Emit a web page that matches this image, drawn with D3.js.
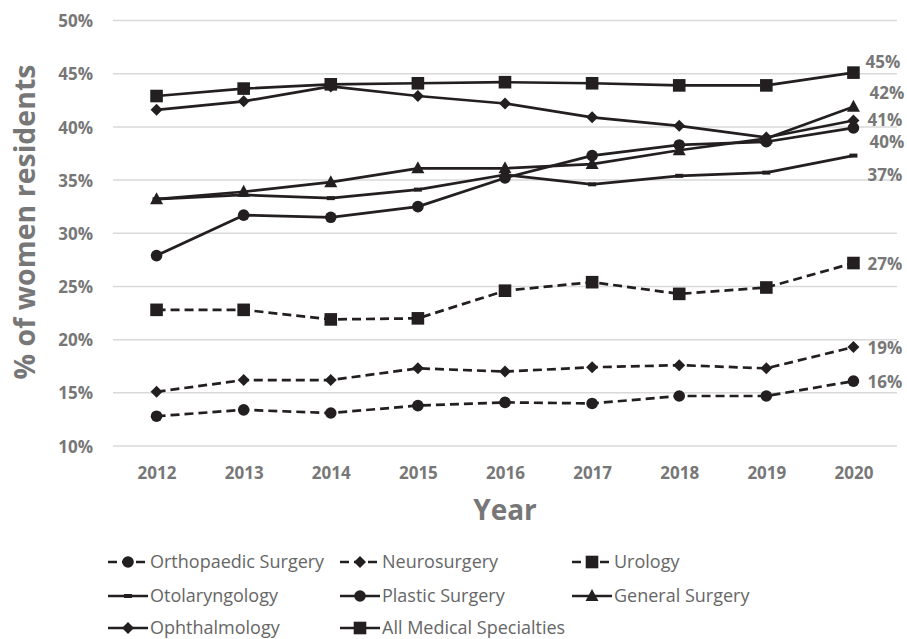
<!DOCTYPE html>
<html>
<head>
<meta charset="utf-8">
<script src="https://cdn.jsdelivr.net/npm/d3@7"></script>
<style>
  html, body { margin: 0; padding: 0; background: #fff; }
  svg { display: block; }
</style>
</head>
<body>
<svg id="chart" width="907" height="639"></svg>
<script>
// Share of women residents by specialty, 2012–2020 (percent)
const years = ["2012", "2013", "2014", "2015", "2016", "2017", "2018", "2019", "2020"];
const yTicks = [10, 15, 20, 25, 30, 35, 40, 45, 50];

const orthopaedicSurgery = [12.8, 13.4, 13.1, 13.8, 14.1, 14.0, 14.7, 14.7, 16.1];
const neurosurgery       = [15.1, 16.2, 16.2, 17.3, 17.0, 17.4, 17.6, 17.3, 19.3];
const urology            = [22.8, 22.8, 21.9, 22.0, 24.6, 25.4, 24.3, 24.9, 27.2];
const otolaryngology     = [33.2, 33.6, 33.3, 34.1, 35.5, 34.6, 35.4, 35.7, 37.3];
const plasticSurgery     = [27.9, 31.7, 31.5, 32.5, 35.2, 37.3, 38.3, 38.6, 39.9];
const generalSurgery     = [33.2, 33.9, 34.8, 36.1, 36.1, 36.5, 37.8, 38.9, 41.9];
const ophthalmology      = [41.6, 42.4, 43.8, 42.9, 42.2, 40.9, 40.1, 39.0, 40.6];
const allSpecialties     = [42.9, 43.6, 44.0, 44.1, 44.2, 44.1, 43.9, 43.9, 45.1];

const seriesNames = ["Orthopaedic Surgery", "Neurosurgery", "Urology", "Otolaryngology",
                     "Plastic Surgery", "General Surgery", "Ophthalmology", "All Medical Specialties"];
const seriesValues = [orthopaedicSurgery, neurosurgery, urology, otolaryngology,
                      plasticSurgery, generalSurgery, ophthalmology, allSpecialties];

// Drawing style per series
const styles = [
  { dashed: true,  marker: "circle" },
  { dashed: true,  marker: "diamond" },
  { dashed: true,  marker: "square" },
  { dashed: false, marker: "dash" },
  { dashed: false, marker: "circle" },
  { dashed: false, marker: "triangle" },
  { dashed: false, marker: "diamond" },
  { dashed: false, marker: "square" }
];
// Nudges for the end-of-line value labels so they do not collide
const labelNudge = [
  { dx: 14, dy: 1 }, { dx: 14, dy: 1 }, { dx: 14, dy: 1 }, { dx: 14, dy: 19 },
  { dx: 16, dy: 14 }, { dx: 16, dy: -14 }, { dx: 14, dy: -1 }, { dx: 12, dy: -11 }
];

const INK = "#231f20";
const GREY = "#777777";
const FONT = "'Open Sans', 'DejaVu Sans', sans-serif";

const svg = d3.select("#chart");
const plot = { left: 113, right: 897, top: 20.5, bottom: 446 };

const x = d3.scalePoint().domain(years).range([plot.left, plot.right]).padding(0.5);
const y = d3.scaleLinear().domain([10, 50]).range([plot.bottom, plot.top]);

// Gridlines
svg.append("g").selectAll("line").data(yTicks).join("line")
  .attr("x1", plot.left).attr("x2", plot.right)
  .attr("y1", d => y(d)).attr("y2", d => y(d))
  .attr("stroke", "#d9d9d9").attr("stroke-width", 1.5);

// Y axis labels
const yAxis = d3.axisLeft(y).tickValues(yTicks).tickFormat(d => d + "%").tickSize(0).tickPadding(0);
const yg = svg.append("g").attr("transform", `translate(93,0)`).call(yAxis);
yg.select(".domain").remove();
yg.selectAll("text").attr("font-family", FONT).attr("font-weight", 700)
  .attr("font-size", 17).attr("fill", GREY).attr("dy", "0.36em");

// X axis labels
const xAxis = d3.axisBottom(x).tickSize(0).tickPadding(0);
const xg = svg.append("g").attr("transform", `translate(0,467)`).call(xAxis);
xg.select(".domain").remove();
xg.selectAll("text").attr("font-family", FONT).attr("font-weight", 700)
  .attr("font-size", 17).attr("fill", GREY).attr("dy", "0.72em");

// Axis titles
svg.append("text")
  .attr("transform", "translate(35,222) rotate(-90)")
  .attr("text-anchor", "middle")
  .attr("font-family", FONT).attr("font-weight", 700).attr("font-size", 28.5)
  .attr("fill", GREY).text("% of women residents");

svg.append("text")
  .attr("x", 505).attr("y", 520)
  .attr("text-anchor", "middle")
  .attr("font-family", FONT).attr("font-weight", 700).attr("font-size", 28)
  .attr("fill", GREY).text("Year");

// Marker shapes
function drawMarker(sel, type) {
  if (type === "circle") {
    sel.append("circle").attr("r", 5.8).attr("fill", INK);
  } else if (type === "square") {
    sel.append("rect").attr("x", -6.3).attr("y", -6.3).attr("width", 12.6).attr("height", 12.6).attr("fill", INK);
  } else if (type === "diamond") {
    sel.append("path").attr("d", "M0,-6 L6,0 L0,6 L-6,0 Z").attr("fill", INK);
  } else if (type === "triangle") {
    sel.append("path").attr("d", "M0,-7 L6.5,5 L-6.5,5 Z").attr("fill", INK);
  } else if (type === "dash") {
    sel.append("rect").attr("x", -4).attr("y", -2).attr("width", 8).attr("height", 4).attr("fill", INK);
  }
}

const line = d3.line().x((d, i) => x(years[i])).y(d => y(d));
const fmt = d3.format(".0f");

seriesValues.forEach((vals, si) => {
  const st = styles[si];
  const g = svg.append("g");
  g.append("path").datum(vals)
    .attr("d", line)
    .attr("fill", "none").attr("stroke", INK).attr("stroke-width", 2.7)
    .attr("stroke-linejoin", "round")
    .attr("stroke-dasharray", st.dashed ? "9,5" : null);
  g.selectAll("g.m").data(vals).join("g").attr("class", "m")
    .attr("transform", (d, i) => `translate(${x(years[i])},${y(d)})`)
    .each(function() { drawMarker(d3.select(this), st.marker); });

  const last = vals[vals.length - 1];
  const n = labelNudge[si];
  svg.append("text")
    .attr("x", x(years[years.length - 1]) + n.dx)
    .attr("y", y(last) + n.dy)
    .attr("dy", "0.36em")
    .attr("font-family", FONT).attr("font-weight", 700).attr("font-size", 17)
    .attr("fill", GREY).text(fmt(last) + "%");
});

// Legend: three columns, three rows
const legend = svg.append("g");
const colX = [108, 340, 572];
const rowY = [562, 596, 628];
seriesNames.forEach((name, i) => {
  const st = styles[i];
  const gx = colX[i % 3], gy = rowY[Math.floor(i / 3)];
  const item = legend.append("g").attr("transform", `translate(${gx},${gy})`);
  item.append("line").attr("x1", 0).attr("x2", 40).attr("y1", 0).attr("y2", 0)
    .attr("stroke", INK).attr("stroke-width", 2.7)
    .attr("stroke-dasharray", st.dashed ? "9,5" : null);
  const m = item.append("g").attr("transform", "translate(20,0)");
  drawMarker(m, st.marker);
  item.append("text").attr("x", 42).attr("y", 0).attr("dy", "0.36em")
    .attr("font-family", FONT).attr("font-size", 18).attr("fill", "#666")
    .text(name);
});
</script>
</body>
</html>
